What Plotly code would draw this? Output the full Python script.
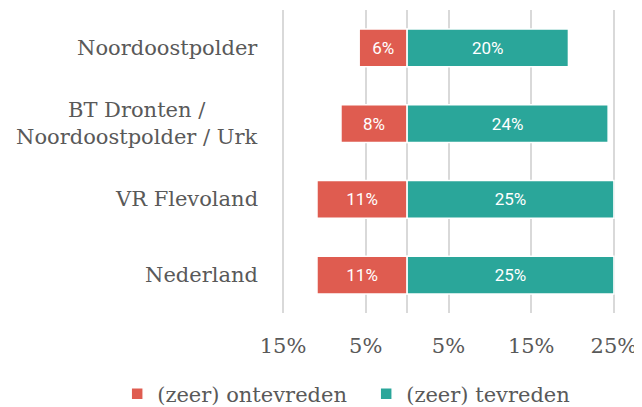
import plotly.graph_objects as go

categories = ["Noordoostpolder", "BT Dronten /<br>Noordoostpolder / Urk", "VR Flevoland", "Nederland"]
ontevreden = [5.8, 8.0, 10.9, 10.9]
tevreden = [19.5, 24.3, 25.0, 25.0]
ontevreden_labels = ["6%", "8%", "11%", "11%"]
tevreden_labels = ["20%", "24%", "25%", "25%"]
tick_vals = [-15, -5, 5, 15, 25]
tick_text = ["15%", "5%", "5%", "15%", "25%"]

RED = "#DF5C50"
TEAL = "#2AA69A"
GREY = "#595959"
SERIF = "DejaVu Serif"
FS = 21

fig = go.Figure()
fig.add_trace(go.Bar(
    y=categories, x=[-v for v in ontevreden], orientation="h",
    name="(zeer) ontevreden", marker=dict(color=RED, line=dict(color="white", width=1.5)),
    text=ontevreden_labels, textposition="inside", insidetextanchor="middle",
    constraintext="none",
    textfont=dict(family="Roboto", size=17, color="white"), hoverinfo="skip",
))
fig.add_trace(go.Bar(
    y=categories, x=tevreden, orientation="h",
    name="(zeer) tevreden", marker=dict(color=TEAL, line=dict(color="white", width=1.5)),
    text=tevreden_labels, textposition="inside", insidetextanchor="middle",
    constraintext="none",
    textfont=dict(family="Roboto", size=17, color="white"), hoverinfo="skip",
))

for c in categories:
    fig.add_annotation(x=0, xref="paper", y=c, yref="y", text=c, showarrow=False,
                       xanchor="right", align="center", xshift=-21,
                       font=dict(family=SERIF, size=FS, color=GREY))

fig.update_layout(
    width=642, height=407,
    margin=dict(l=273, r=34, t=2, b=102, autoexpand=False),
    barmode="relative", bargap=0.5,
    plot_bgcolor="white", paper_bgcolor="white",
    font=dict(family=SERIF, size=FS, color=GREY),
    showlegend=True,
    legend=dict(orientation="h", x=-0.489, xanchor="left", y=-0.2, yanchor="top",
                bgcolor="rgba(0,0,0,0)", entrywidth=204,
                font=dict(family=SERIF, size=FS, color=GREY), itemwidth=30),
)
fig.update_xaxes(range=[-15.25, 25.25], tickvals=tick_vals, ticktext=tick_text,
                 showgrid=True, gridcolor="#d9d9d9", gridwidth=2,
                 zeroline=True, zerolinecolor="#d9d9d9", zerolinewidth=2,
                 showline=False, ticks="", ticklabelstandoff=18, automargin=False,
                 tickfont=dict(family=SERIF, size=FS, color=GREY))
fig.update_yaxes(categoryorder="array", categoryarray=categories, autorange="reversed",
                 showticklabels=False, showgrid=False, zeroline=False, showline=False,
                 automargin=False)

fig.write_html("out.html")
